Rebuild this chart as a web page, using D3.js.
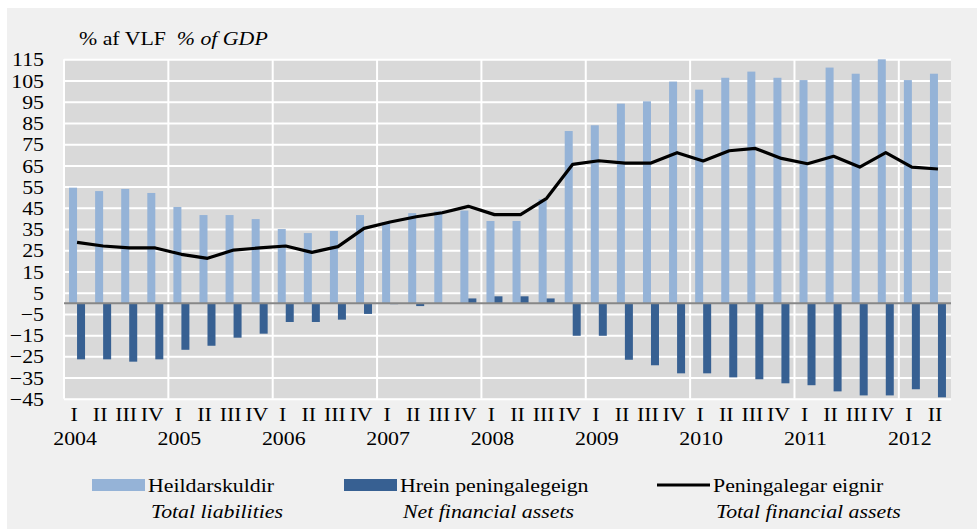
<!DOCTYPE html>
<html>
<head>
<meta charset="utf-8">
<script src="https://cdn.jsdelivr.net/npm/d3@7"></script>
<style>
body{margin:0;background:#fff;}
svg{display:block;font-family:"Liberation Serif","Times New Roman",serif;}
</style>
</head>
<body>
<svg id="chart" width="977" height="529"></svg>
<script>
// data (% of GDP, quarterly 2004 I - 2012 II)
var quarters = ["I","II","III","IV","I","II","III","IV","I","II","III","IV","I","II","III","IV",
	"I","II","III","IV","I","II","III","IV","I","II","III","IV","I","II","III","IV","I","II"];
var years = ["2004","2005","2006","2007","2008","2009","2010","2011","2012"];
var yTicks = [115,105,95,85,75,65,55,45,35,25,15,5,-5,-15,-25,-35,-45];

var liabilities = [54.5,52.9,53.9,52.0,45.4,41.6,41.6,39.7,35.0,33.1,34.1,41.6,38.3,42.5,43.3,43.7,
	38.8,38.8,49.0,81.2,83.9,94.1,95.2,104.5,100.7,106.3,109.2,106.3,105.2,111.1,108.2,115,105.2,108.2];
var netAssets = [-26.4,-26.4,-27.5,-26.4,-21.9,-20.0,-16.2,-14.3,-8.8,-8.8,-7.7,-5.0,-0.4,-1.3,-0.3,2.3,
	3.3,3.3,2.3,-15.3,-15.3,-26.6,-29.2,-33.0,-33.0,-34.9,-35.8,-37.7,-38.6,-41.5,-43.4,-43.4,-40.5,-44.3];
var totalAssets = [28.7,27.0,26.1,26.1,23.1,21.2,25.1,26.1,27.0,24.0,26.7,35.3,38.3,40.8,42.7,45.7,
	41.8,41.8,49.5,65.5,67.2,66.1,66.1,71.0,67.1,71.9,73.0,68.3,65.8,69.3,64.2,71.0,64.2,63.3];

var LIGHT = "#95b3d7", DARK = "#376092";
var SX = 1.12; // text in the original is a bit wide
var FS = 19.5;

var svg = d3.select("#chart");
svg.append("rect").attr("x",7).attr("y",8).attr("width",970).attr("height",521).attr("fill","#f0f0f0");

var pLeft = 64, pRight = 951, pTop = 59.3, pBottom = 398.8;
var idx = d3.range(quarters.length);
var x = d3.scaleBand().domain(idx).range([pLeft,pRight]);
var bw = x.bandwidth();
var x1 = d3.scaleBand().domain(["liab","net"]).range([bw/2-8, bw/2+8]);
var y = d3.scaleLinear().domain([-45,115]).range([pBottom,pTop]);

svg.append("rect").attr("x",pLeft).attr("y",pTop).attr("width",pRight-pLeft).attr("height",pBottom-pTop).attr("fill","#d9d9d9");

// horizontal gridlines
var grid = svg.append("g").attr("transform","translate("+pLeft+",0)")
	.call(d3.axisLeft(y).tickValues(yTicks).tickSize(-(pRight-pLeft)).tickFormat(""));
grid.select(".domain").remove();
grid.selectAll("line").attr("stroke","#fff").attr("stroke-width",2);

// vertical gridlines at each year
svg.append("g").selectAll("line").data(d3.range(0,quarters.length+1,4)).join("line")
	.attr("x1",function(i){return i<quarters.length ? x(i) : pRight;})
	.attr("x2",function(i){return i<quarters.length ? x(i) : pRight;})
	.attr("y1",pTop).attr("y2",pBottom)
	.attr("stroke","#fff").attr("stroke-width",2);

// bars
svg.append("g").selectAll("rect").data(liabilities).join("rect")
	.attr("x",function(d,i){return x(i)+x1("liab");})
	.attr("width",x1.bandwidth())
	.attr("y",function(d){return y(Math.max(0,d));})
	.attr("height",function(d){return Math.abs(y(d)-y(0));})
	.attr("fill",LIGHT);
svg.append("g").selectAll("rect").data(netAssets).join("rect")
	.attr("x",function(d,i){return x(i)+x1("net");})
	.attr("width",x1.bandwidth())
	.attr("y",function(d){return y(Math.max(0,d));})
	.attr("height",function(d){return Math.abs(y(d)-y(0));})
	.attr("fill",DARK);

// zero line
svg.append("line").attr("x1",pLeft).attr("x2",pRight).attr("y1",y(0)).attr("y2",y(0))
	.attr("stroke","#878787").attr("stroke-width",2);

// total financial assets line
var line = d3.line().x(function(d,i){return x(i)+bw/2;}).y(function(d){return y(d);});
svg.append("path").datum(totalAssets).attr("d",line)
	.attr("fill","none").attr("stroke","#000").attr("stroke-width",3.2).attr("stroke-linejoin","round");

// y axis labels
var ya = svg.append("g").attr("transform","translate("+pLeft+",0)")
	.call(d3.axisLeft(y).tickValues(yTicks).tickSize(0))
	.attr("font-family",null).attr("font-size",FS);
ya.select(".domain").remove();
ya.selectAll("text").attr("x",-20/SX).attr("dy","0.34em").attr("transform","scale("+SX+",1)").attr("fill","#000");

// x axis: quarters and years
var xa = svg.append("g").attr("transform","translate(0,"+pBottom+")")
	.call(d3.axisBottom(x).tickSize(0).tickFormat(function(i){return quarters[i];}))
	.attr("font-family",null).attr("font-size",FS);
xa.select(".domain").remove();
xa.selectAll(".tick").each(function(){
	var t = d3.select(this), tr = t.attr("transform");
	var px = +tr.match(/translate\(([-\d.]+)/)[1];
	t.attr("transform","translate("+(px-3)+",0) scale("+SX+",1)");
});
xa.selectAll("text").attr("y",22.6).attr("dy",null).attr("fill","#000");

var xy = svg.append("g").attr("transform","translate(0,"+pBottom+")")
	.call(d3.axisBottom(x).tickSize(0).tickValues(d3.range(0,quarters.length,4))
		.tickFormat(function(i){return years[i/4];}))
	.attr("font-family",null).attr("font-size",FS);
xy.select(".domain").remove();
xy.selectAll(".tick").each(function(){
	var t = d3.select(this), tr = t.attr("transform");
	var px = +tr.match(/translate\(([-\d.]+)/)[1];
	t.attr("transform","translate("+(px-2)+",0) scale("+SX+",1)");
});
xy.selectAll("text").attr("y",46).attr("dy",null).attr("fill","#000");

// title
var title = svg.append("text").attr("transform","translate(79,45) scale("+SX+",1)").attr("font-size",FS);
title.append("tspan").text("% af VLF\u00a0\u00a0");
title.append("tspan").attr("font-style","italic").text("% of GDP");

// legend
var legend = [
	{name:"Heildarskuldir", en:"Total liabilities", x:92, type:"bar", color:LIGHT},
	{name:"Hrein peningalegeign", en:"Net financial assets", x:344, type:"bar", color:DARK},
	{name:"Peningalegar eignir", en:"Total financial assets", x:657, type:"line", color:"#000"}
];
var lg = svg.append("g").selectAll("g").data(legend).join("g")
	.attr("transform",function(d){return "translate("+d.x+",0)";});
lg.filter(function(d){return d.type=="bar";}).append("rect")
	.attr("x",0).attr("y",479).attr("width",53).attr("height",12).attr("fill",function(d){return d.color;});
lg.filter(function(d){return d.type=="line";}).append("line")
	.attr("x1",0).attr("x2",53).attr("y1",485).attr("y2",485).attr("stroke","#000").attr("stroke-width",3.2);
lg.append("text").attr("transform","translate(56,491.5) scale("+SX+",1)").attr("font-size",FS)
	.text(function(d){return d.name;});
lg.append("text").attr("transform","translate(59,517.5) scale("+SX+",1)").attr("font-size",FS)
	.attr("font-style","italic").text(function(d){return d.en;});
</script>
</body>
</html>
